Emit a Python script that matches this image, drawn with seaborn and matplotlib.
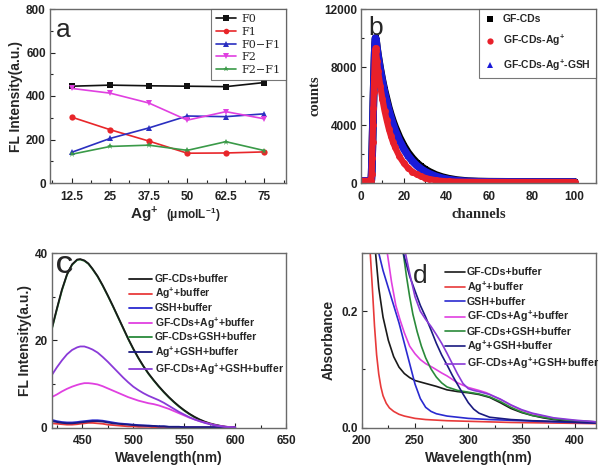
import numpy as np
import pandas as pd
import matplotlib
matplotlib.use("Agg")
import matplotlib.pyplot as plt
import seaborn as sns
from matplotlib.lines import Line2D
from matplotlib.ticker import MultipleLocator

# ---------------- data: panel a ----------------
ag_conc = [12.5, 25, 37.5, 50, 62.5, 75]
F0 = [445, 450, 447, 445, 443, 462]
F1 = [303, 245, 193, 137, 138, 143]
F0_F1 = [141, 205, 253, 308, 305, 318]
F2 = [435, 413, 368, 289, 328, 295]
F2_F1 = [132, 168, 174, 150, 190, 149]

# ---------------- data: panel b ----------------
channels = [0, 2, 4, 4.8, 5.0, 5.2, 5.4, 5.6, 5.8, 6.0, 6.2, 6.4, 6.6, 6.8, 7.0, 7.5, 8, 9, 10, 11, 12,
            13, 14, 15, 16, 18, 20, 22, 24, 26, 28, 30, 32, 35, 38, 41, 45, 50, 55, 60, 70, 80, 90, 100]
counts_cds = [150, 150, 150, 160, 700, 1800, 3000, 4300, 5600, 6800, 7900, 8900, 9600, 10000, 9900, 9300,
              8800, 7900, 7100, 6400, 5800, 5200, 4700, 4250, 3850, 3150, 2580, 2100, 1720, 1400, 1150, 940,
              770, 560, 410, 300, 200, 130, 100, 90, 80, 75, 70, 70]
counts_ag = [150, 150, 150, 160, 650, 1700, 2800, 4000, 5200, 6300, 7300, 8200, 8900, 9300, 9100, 8400,
             7700, 6700, 5800, 5000, 4350, 3750, 3250, 2800, 2450, 1830, 1380, 1040, 790, 600, 460, 350,
             270, 190, 140, 110, 90, 80, 75, 72, 70, 70, 70, 70]
counts_ag_gsh = [150, 150, 150, 160, 700, 1800, 3000, 4300, 5600, 6800, 7900, 8900, 9600, 10000, 9870, 9250,
                 8720, 7800, 7000, 6270, 5620, 5040, 4520, 4050, 3630, 2920, 2350, 1890, 1520, 1220, 980, 790,
                 640, 460, 330, 240, 160, 110, 90, 80, 75, 72, 70, 70]

# ---------------- data: panel c ----------------
wl_c = [420, 425, 430, 435, 440, 445, 448, 452, 456, 460, 465, 470, 475, 480, 485, 490, 495, 500, 505, 510,
        515, 520, 525, 530, 535, 540, 545, 550, 555, 560, 565, 570, 575, 580, 585, 590, 595, 600]
fl_cds = [22.6, 27.2, 31.6, 35.1, 37.4, 38.5, 38.6, 38.3, 37.6, 36.4, 34.7, 32.6, 30.3, 27.9, 25.4, 22.9,
          20.4, 18.1, 16.0, 14.1, 12.4, 10.9, 9.5, 8.2, 7.0, 5.9, 4.9, 4.0, 3.2, 2.5, 1.9, 1.4, 1.0, 0.7,
          0.45, 0.25, 0.12, 0.05]
fl_ag = [1.0, 0.9, 0.8, 0.7, 0.7, 0.8, 0.9, 1.0, 1.1, 1.1, 1.0, 0.9, 0.7, 0.6, 0.5, 0.4, 0.3, 0.3, 0.2, 0.2,
         0.2, 0.1, 0.1, 0.1, 0.1, 0.1, 0.1, 0.1, 0.1, 0.1, 0.1, 0.1, 0.1, 0.1, 0.1, 0.1, 0.1, 0.1]
fl_gsh = [1.8, 1.5, 1.3, 1.2, 1.2, 1.3, 1.4, 1.5, 1.6, 1.7, 1.7, 1.6, 1.4, 1.2, 1.0, 0.9, 0.8, 0.7, 0.6,
          0.5, 0.5, 0.4, 0.3, 0.3, 0.2, 0.2, 0.2, 0.1, 0.1, 0.1, 0.1, 0.1, 0.1, 0.1, 0.1, 0.1, 0.1, 0.1]
fl_cds_ag = [7.0, 7.6, 8.3, 8.9, 9.4, 9.8, 10.0, 10.2, 10.2, 10.1, 9.9, 9.5, 9.0, 8.5, 8.0, 7.5, 7.0, 6.6,
             6.2, 5.9, 5.6, 5.4, 5.1, 4.7, 4.3, 3.8, 3.3, 2.8, 2.3, 1.9, 1.5, 1.2, 0.9, 0.6, 0.4, 0.25, 0.12, 0.05]
fl_cds_gsh = [22.4, 27.0, 31.4, 35.0, 37.3, 38.4, 38.5, 38.2, 37.5, 36.3, 34.6, 32.5, 30.2, 27.8, 25.3,
              22.8, 20.3, 18.0, 15.9, 14.0, 12.3, 10.8, 9.4, 8.1, 6.9, 5.8, 4.8, 3.9, 3.1, 2.4, 1.8, 1.3,
              0.9, 0.6, 0.4, 0.2, 0.1, 0.05]
fl_ag_gsh = [1.5, 1.3, 1.1, 1.0, 1.0, 1.1, 1.2, 1.3, 1.4, 1.5, 1.5, 1.4, 1.2, 1.0, 0.9, 0.8, 0.7, 0.6, 0.5,
             0.5, 0.4, 0.4, 0.3, 0.3, 0.2, 0.2, 0.2, 0.1, 0.1, 0.1, 0.1, 0.1, 0.1, 0.1, 0.1, 0.1, 0.1, 0.1]
fl_cds_ag_gsh = [12.0, 13.8, 15.4, 16.8, 17.8, 18.4, 18.6, 18.6, 18.3, 17.9, 17.2, 16.2, 15.1, 13.9, 12.7,
                 11.5, 10.4, 9.4, 8.6, 7.9, 7.3, 6.8, 6.3, 5.7, 5.0, 4.3, 3.6, 3.0, 2.4, 1.9, 1.5, 1.1,
                 0.8, 0.55, 0.35, 0.2, 0.1, 0.05]

# ---------------- data: panel d ----------------
wl_d_cds = [210, 213, 216, 220, 225, 230, 235, 240, 245, 250, 260, 270, 280, 290, 300, 310, 320, 330, 340,
            350, 360, 370, 380, 390, 400, 420]
abs_cds = [0.42, 0.30, 0.24, 0.19, 0.15, 0.122, 0.104, 0.093, 0.086, 0.081, 0.076, 0.071, 0.065, 0.062,
           0.060, 0.057, 0.052, 0.043, 0.033, 0.026, 0.021, 0.017, 0.014, 0.012, 0.011, 0.009]
wl_d_ag = [205, 208, 210, 212, 214, 216, 218, 220, 223, 226, 230, 235, 240, 250, 260, 280, 300, 340, 380, 420]
abs_ag = [0.35, 0.30, 0.24, 0.175, 0.125, 0.092, 0.070, 0.055, 0.042, 0.034, 0.028, 0.023, 0.020, 0.016,
          0.014, 0.012, 0.011, 0.009, 0.008, 0.007]
wl_d_gsh = [212, 216, 220, 225, 230, 235, 240, 245, 250, 255, 260, 265, 270, 280, 290, 300, 320, 350, 380, 420]
abs_gsh = [0.35, 0.30, 0.27, 0.24, 0.21, 0.18, 0.145, 0.11, 0.075, 0.050, 0.035, 0.028, 0.024, 0.020,
           0.018, 0.016, 0.014, 0.012, 0.010, 0.008]
wl_d_cds_ag = [221, 224, 228, 232, 236, 240, 245, 250, 255, 260, 267, 275, 280, 290, 300, 310, 317, 325,
               330, 340, 350, 360, 380, 400, 420]
abs_cds_ag = [0.34, 0.30, 0.25, 0.21, 0.185, 0.163, 0.14, 0.127, 0.117, 0.110, 0.103, 0.094, 0.089, 0.077,
              0.069, 0.064, 0.060, 0.053, 0.049, 0.039, 0.030, 0.024, 0.016, 0.012, 0.010]
wl_d_cds_gsh = [236, 239, 242, 245, 248, 252, 256, 260, 265, 270, 275, 280, 290, 300, 310, 320, 330, 340,
                350, 360, 380, 400, 420]
abs_cds_gsh = [0.33, 0.30, 0.26, 0.225, 0.195, 0.165, 0.14, 0.12, 0.101, 0.087, 0.077, 0.070, 0.064,
               0.061, 0.058, 0.053, 0.045, 0.035, 0.027, 0.021, 0.015, 0.012, 0.010]
wl_d_ag_gsh = [235, 239, 245, 250, 255, 260, 265, 270, 275, 280, 285, 290, 295, 300, 305, 310, 320, 340,
               360, 380, 420]
abs_ag_gsh = [0.36, 0.30, 0.26, 0.235, 0.21, 0.19, 0.168, 0.145, 0.125, 0.108, 0.090, 0.074, 0.058, 0.043,
              0.032, 0.025, 0.018, 0.014, 0.012, 0.011, 0.008]
wl_d_cds_ag_gsh = [238, 241, 245, 250, 255, 260, 265, 270, 275, 280, 285, 290, 295, 300, 305, 310, 320,
                   330, 340, 350, 360, 380, 400, 420]
abs_cds_ag_gsh = [0.34, 0.30, 0.265, 0.225, 0.20, 0.186, 0.174, 0.16, 0.145, 0.128, 0.11, 0.092, 0.076,
                  0.067, 0.064, 0.062, 0.057, 0.049, 0.039, 0.031, 0.025, 0.017, 0.013, 0.010]

labels_a = ["F0", "F1", "F0\u2212F1", "F2", "F2\u2212F1"]
labels_b = ["GF-CDs", "GF-CDs-Ag$^{+}$", "GF-CDs-Ag$^{+}$-GSH"]
labels_cd = ["GF-CDs+buffer", "Ag$^{+}$+buffer", "GSH+buffer", "GF-CDs+Ag$^{+}$+buffer",
             "GF-CDs+GSH+buffer", "Ag$^{+}$+GSH+buffer", "GF-CDs+Ag$^{+}$+GSH+buffer"]

# ---------------- style ----------------
sns.set_theme(style="ticks")
plt.rcParams["font.family"] = ["Liberation Sans", "DejaVu Sans"]
plt.rcParams["font.weight"] = "bold"
plt.rcParams["axes.labelweight"] = "bold"
plt.rcParams["mathtext.fontset"] = "custom"
plt.rcParams["mathtext.rm"] = "Liberation Sans:bold"
plt.rcParams["mathtext.bf"] = "Liberation Sans:bold"
plt.rcParams["mathtext.it"] = "Liberation Sans:bold"
plt.rcParams["mathtext.default"] = "rm"

FRAME = "#6a6a6a"
col_a = {"F0": "#111111", "F1": "#e8262a", "F0\u2212F1": "#2a2fc0", "F2": "#e040e0", "F2\u2212F1": "#3a9a48"}
mk_a = {"F0": "s", "F1": "o", "F0\u2212F1": "^", "F2": "v", "F2\u2212F1": "*"}
col_cd = ["#1a1a1a", "#e83a3a", "#2a2ad0", "#e040e0", "#2a8a3a", "#1a1a80", "#8a3ad8"]

fig = plt.figure(figsize=(6.01, 4.72), dpi=100)
W, H = 601.0, 472.0
ax_a = fig.add_axes([50 / W, (H - 183) / H, 236 / W, 174 / H])
ax_b = fig.add_axes([361 / W, (H - 183) / H, 235 / W, 174 / H])
ax_c = fig.add_axes([51.7 / W, (H - 427.7) / H, 234.5 / W, 174.7 / H])
ax_d = fig.add_axes([361.7 / W, (H - 427.7) / H, 234.5 / W, 174.7 / H])


def style_axes(ax, xpad=5):
    for s in ax.spines.values():
        s.set_color(FRAME)
        s.set_linewidth(1.0)
    ax.tick_params(which="both", direction="in", top=False, right=False, colors="#222222",
                   labelsize=8.5, width=0.8)
    ax.tick_params(which="major", length=3.5)
    ax.tick_params(which="minor", length=2)
    ax.tick_params(axis="x", which="major", pad=xpad)
    ax.tick_params(axis="y", which="major", pad=3)
    for lbl in ax.get_xticklabels() + ax.get_yticklabels():
        lbl.set_fontweight("bold")


# ---------------- panel a ----------------
rows = []
for name, vals in zip(labels_a, [F0, F1, F0_F1, F2, F2_F1]):
    for x, v in zip(ag_conc, vals):
        rows.append({"conc": x, "val": v, "series": name})
dfa = pd.DataFrame(rows)
sns.lineplot(data=dfa, x="conc", y="val", hue="series", style="series", hue_order=labels_a,
             style_order=labels_a, palette=col_a, markers=mk_a, dashes=False, ax=ax_a,
             linewidth=1.2, markersize=4.5, markeredgewidth=0, legend=False)
ax_a.set_xlim(5.5, 82)
ax_a.set_ylim(0, 800)
ax_a.set_xticks(ag_conc)
ax_a.set_xticklabels(["12.5", "25", "37.5", "50", "62.5", "75"])
ax_a.xaxis.set_minor_locator(MultipleLocator(6.25))
ax_a.set_yticks([0, 200, 400, 600, 800])
ax_a.yaxis.set_minor_locator(MultipleLocator(100))
ax_a.set_xlabel("")
ax_a.set_ylabel("FL Intensity(a.u.)", fontsize=10, labelpad=2)
ax_a.text(0.458, -0.185, "Ag$^{+}$", transform=ax_a.transAxes, ha="right", va="center", fontsize=11)
ax_a.text(0.49, -0.185, "(\u03bcmolL$^{-1}$)", transform=ax_a.transAxes, ha="left", va="center", fontsize=8.5)
ax_a.text(0.025, 0.88, "a", transform=ax_a.transAxes, fontsize=19, fontweight="normal", va="center")
handles_a = [Line2D([], [], color=col_a[n], marker=mk_a[n], markersize=4, markeredgewidth=0, lw=1.2)
             for n in labels_a]
leg = ax_a.legend(handles_a, labels_a, loc="upper right", prop={"family": "DejaVu Serif", "size": 8,
                  "weight": "normal"}, frameon=True, fancybox=False, edgecolor="#555555",
                  borderaxespad=0.0, labelspacing=0.25, handlelength=1.8, handletextpad=0.5,
                  borderpad=0.45)
leg.get_frame().set_linewidth(0.8)
style_axes(ax_a, xpad=6)

# ---------------- panel b ----------------
rows = []
for name, vals in zip(labels_b, [counts_cds, counts_ag, counts_ag_gsh]):
    for x, v in zip(channels, vals):
        rows.append({"ch": x, "cnt": v, "sample": name})
dfb = pd.DataFrame(rows)
col_b = {labels_b[0]: "#000000", labels_b[1]: "#e8202a", labels_b[2]: "#1a1ad8"}
mk_b = {labels_b[0]: "s", labels_b[1]: "o", labels_b[2]: "^"}
for name, lw in [(labels_b[0], 5.5), (labels_b[2], 5.5), (labels_b[1], 4.5)]:
    sub = dfb[dfb["sample"] == name]
    sns.lineplot(data=sub, x="ch", y="cnt", color=col_b[name], marker=mk_b[name], markersize=5,
                 markeredgewidth=0, linewidth=lw, ax=ax_b, legend=False)
ax_b.set_xlim(0, 110)
ax_b.set_ylim(0, 12000)
ax_b.set_xticks([0, 20, 40, 60, 80, 100])
ax_b.xaxis.set_minor_locator(MultipleLocator(10))
ax_b.set_yticks([0, 4000, 8000, 12000])
ax_b.yaxis.set_minor_locator(MultipleLocator(2000))
ax_b.set_xlabel("channels", family=["Liberation Serif", "DejaVu Serif"], fontsize=10.5, labelpad=3)
ax_b.set_ylabel("counts", family=["Liberation Serif", "DejaVu Serif"], fontsize=10.5, labelpad=2)
ax_b.text(0.03, 0.89, "b", transform=ax_b.transAxes, fontsize=19, fontweight="normal", va="center")
handles_b = [Line2D([], [], color=col_b[n], marker=mk_b[n], markersize=4.5, markeredgewidth=0, lw=0)
             for n in labels_b]
leg = ax_b.legend(handles_b, labels_b, loc="upper right", prop={"size": 7.5, "weight": "bold"},
                  frameon=True, fancybox=False, edgecolor="#555555", borderaxespad=0.0,
                  labelspacing=0.85, handlelength=1.2, handletextpad=0.6, borderpad=0.5)
leg.get_frame().set_linewidth(0.8)
style_axes(ax_b, xpad=6)

# ---------------- panel c ----------------
rows = []
for name, vals in zip(labels_cd, [fl_cds, fl_ag, fl_gsh, fl_cds_ag, fl_cds_gsh, fl_ag_gsh, fl_cds_ag_gsh]):
    for x, v in zip(wl_c, vals):
        rows.append({"wl": x, "fl": v, "sample": name})
dfc = pd.DataFrame(rows)
draw_order = [4, 0, 1, 2, 5, 3, 6]
for i in draw_order:
    sub = dfc[dfc["sample"] == labels_cd[i]]
    sns.lineplot(data=sub, x="wl", y="fl", color=col_cd[i], linewidth=1.3, ax=ax_c, legend=False)
ax_c.set_xlim(420, 650)
ax_c.set_ylim(0, 40)
ax_c.set_xticks([450, 500, 550, 600, 650])
ax_c.xaxis.set_minor_locator(MultipleLocator(25))
ax_c.set_yticks([0, 20, 40])
ax_c.yaxis.set_minor_locator(MultipleLocator(10))
ax_c.set_xlabel("Wavelength(nm)", fontsize=10, labelpad=3)
ax_c.set_ylabel("FL Intensity(a.u.)", fontsize=10, labelpad=2)
ax_c.text(0.02, 0.92, "C", transform=ax_c.transAxes, fontsize=17, fontweight="bold", va="center")
handles_c = [Line2D([], [], color=c, lw=1.3) for c in col_cd]
ax_c.legend(handles_c, labels_cd, loc="upper right", bbox_to_anchor=(1.0, 0.89),
            prop={"size": 7.5, "weight": "bold"}, frameon=False, borderaxespad=0.0,
            labelspacing=0.18, handlelength=2.2, handletextpad=0.3, borderpad=0.2)
style_axes(ax_c, xpad=5)

# ---------------- panel d ----------------
rows = []
series_d = [(wl_d_cds, abs_cds), (wl_d_ag, abs_ag), (wl_d_gsh, abs_gsh), (wl_d_cds_ag, abs_cds_ag),
            (wl_d_cds_gsh, abs_cds_gsh), (wl_d_ag_gsh, abs_ag_gsh), (wl_d_cds_ag_gsh, abs_cds_ag_gsh)]
for name, (xs, ys) in zip(labels_cd, series_d):
    for x, v in zip(xs, ys):
        rows.append({"wl": x, "ab": v, "sample": name})
dfd = pd.DataFrame(rows)
for i in range(7):
    sub = dfd[dfd["sample"] == labels_cd[i]]
    sns.lineplot(data=sub, x="wl", y="ab", color=col_cd[i], linewidth=1.2, ax=ax_d, legend=False)
ax_d.set_xlim(200, 420)
ax_d.set_ylim(0, 0.3)
ax_d.set_xticks([200, 250, 300, 350, 400])
ax_d.xaxis.set_minor_locator(MultipleLocator(25))
ax_d.set_yticks([0.0, 0.2])
ax_d.set_yticklabels(["0.0", "0.2"])
ax_d.yaxis.set_minor_locator(MultipleLocator(0.1))
ax_d.set_xlabel("Wavelength(nm)", fontsize=10, labelpad=3)
ax_d.set_ylabel("Absorbance", fontsize=10, labelpad=4)
ax_d.text(0.22, 0.87, "d", transform=ax_d.transAxes, fontsize=19, fontweight="normal", va="center")
handles_d = [Line2D([], [], color=c, lw=1.2) for c in col_cd]
ax_d.legend(handles_d, labels_cd, loc="upper right", bbox_to_anchor=(1.02, 0.93),
            prop={"size": 7.7, "weight": "bold"}, frameon=False, borderaxespad=0.0,
            labelspacing=0.2, handlelength=1.8, handletextpad=0.2, borderpad=0.2)
style_axes(ax_d, xpad=5)

fig.savefig("out.png", dpi=100)
